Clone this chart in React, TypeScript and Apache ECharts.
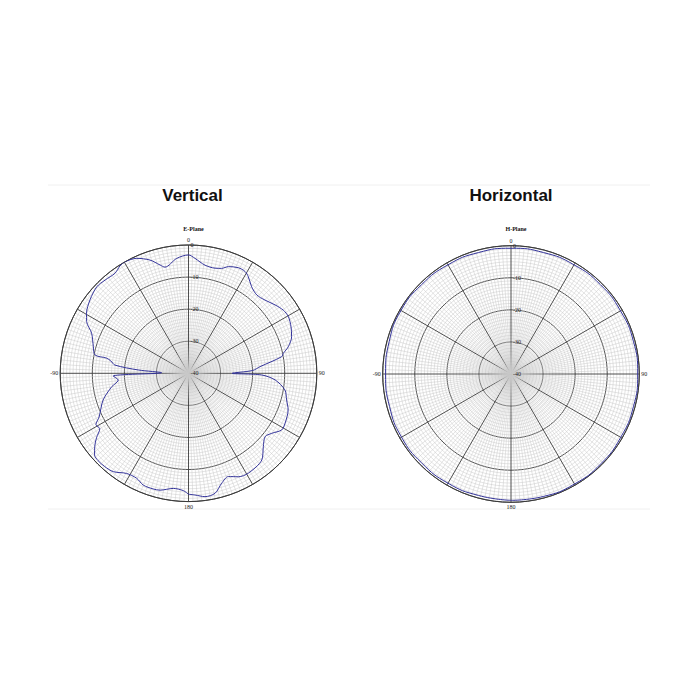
import * as echarts from "echarts"
import { useEffect, useRef } from "react"

// angles in degrees, 0 at top, clockwise; gains in dB (0 = outer ring, -40 = centre)
const ePlaneAngles = [
  -180, -177.4, -172.5, -166.3, -163, -158, -153.7, -148.3, -142.6, -138, -134, -131,
  -128, -125, -122, -119, -116, -107.4, -99.9, -98.3, -95.5, -92.1, -88.7, -86.2,
  -83.6, -81, -79.5, -78.9, -74.4, -67.5, -63.1, -59.5, -53.3, -46.7, -41.8, -36.3,
  -32.6, -29.6, -24.2, -18.8, -14.7, -12.5, -5.9, 0, 3.2, 8.7, 14.2, 17.5, 20.5,
  25.2, 29.1, 31.8, 36.1, 41.1, 46.2, 51.7, 56.3, 60.4, 65.6, 70.5, 75.1, 78.1,
  79.9, 84.7, 87.5, 90, 91.3, 94.4, 99.8, 105.2, 110.2, 117.4, 121.3, 125.8, 129.6,
  134.5, 139.8, 149.1, 154.3, 158.9, 163.2, 167.5, 172.4, 176.9,
]
const ePlaneGain = [
  -2.3, -3.4, -3.8, -2.5, -2.3, -2.4, -3.5, -3.3, -1.4, -0.9, -0.8, -1.2,
  -2.9, -5.0, -7.4, -7.0, -9.0, -12.1, -15.7, -16.8, -18.0, -16.5, -31.6, -24.3,
  -16.9, -15.5, -14.0, -10.3, -9.2, -7.3, -4.4, -3.1, -1.7, -0.7, -1.0, -1.3,
  -0.3, 0, -0.7, -2.7, -5.1, -6.1, -4.0, -3.1, -4.1, -5.9, -6.2, -5.7, -4.5,
  -3.6, -3.7, -4.6, -6.6, -7.6, -7.0, -5.6, -4.5, -4.2, -4.9, -5.9, -7.8, -9.8,
  -10.5, -17.6, -20.0, -26.4, -17.2, -12.9, -9.5, -8.3, -6.9, -6.1, -6.0, -8.0, -9.0,
  -7.3, -4.6, -3.7, -4.2, -5.5, -4.2, -1.7, -1.2, -2.0,
]

const hPlaneAngles = [
  -180, -165, -150, -135, -120, -105, -90, -75, -60, -45, -30, -15,
  0, 15, 30, 45, 60, 75, 90, 105, 120, 135, 150, 165,
]
const hPlaneGain = [
  -0.6, -0.8, -0.7, -0.7, -0.6, -0.8, -0.9, -0.7, -0.4, -0.6, -0.7, -0.8,
  -0.8, -0.8, -0.7, -0.6, -0.6, -0.5, -0.5, -0.5, -0.5, -0.4, -0.4, -0.5,
]

const angleLabels: Record<number, string> = { 0: "0", 90: "90", 180: "180", 270: "-90" }
const radiusLabels = ["-40", "-30", "-20", "-10", "0"]

const titles = ["Vertical", "Horizontal"]
const subtitles = ["E-Plane", "H-Plane"]
const centers: [number, number][] = [
  [188.5, 373.3],
  [511, 374],
]
const radius = 128.3

const dark = "#3a3a3a"
const minor = "#c8c8c8"
const trace = "#33339a"

function toPoints(angles: number[], gain: number[]): [number, number][] {
  const pts: [number, number][] = angles.map((a, i) => [gain[i], (a + 360) % 360])
  pts.push(pts[0])
  return pts
}

export default function App(): React.ReactElement {
  const ref = useRef<HTMLDivElement>(null)

  useEffect(() => {
    const node = ref.current
    if (!node) return
    const chart = echarts.init(node, undefined, { renderer: "svg", width: 698, height: 698 })

    const polar = centers.map((c) => ({ center: c, radius }))

    const angleAxis = centers.map((_, i) => ({
      polarIndex: i,
      type: "value",
      min: 0,
      max: 360,
      interval: 30,
      startAngle: 90,
      clockwise: true,
      axisLine: { show: true, lineStyle: { color: dark, width: 1 } },
      axisTick: { show: false },
      axisLabel: {
        margin: 2,
        fontSize: 6,
        fontFamily: "Liberation Serif",
        color: "#222",
        formatter: (v: number) => angleLabels[v] ?? "",
      },
      splitLine: { show: true, lineStyle: { color: dark, width: 0.9 } },
      minorTick: { show: false, splitNumber: 15 },
      minorSplitLine: { show: true, lineStyle: { color: minor, width: 0.5 } },
    }))

    const radiusAxis = centers.map((_, i) => ({
      polarIndex: i,
      type: "value",
      min: -40,
      max: 0,
      interval: 10,
      axisLine: { show: false },
      axisTick: { show: false },
      axisLabel: {
        fontSize: 6,
        fontFamily: "Liberation Serif",
        color: "#222",
        align: "left",
        margin: -2,
        formatter: (v: number) => radiusLabels[(v + 40) / 10] ?? "",
      },
      splitLine: { show: true, lineStyle: { color: dark, width: 0.9 } },
      minorTick: { show: false, splitNumber: 10 },
      minorSplitLine: { show: true, lineStyle: { color: minor, width: 0.5 } },
    }))

    chart.setOption({
      animation: false,
      backgroundColor: "#ffffff",
      title: [
        ...titles.map((t, i) => ({
          text: t,
          left: centers[i][0] - (i === 0 ? 1 : 5),
          top: 182,
          textAlign: "center",
          textStyle: {
            fontFamily: "Liberation Sans",
            fontWeight: "bold",
            fontSize: 17,
            color: "#111",
          },
        })),
        ...subtitles.map((t, i) => ({
          text: t,
          left: centers[i][0],
          top: 221,
          textAlign: "center",
          textStyle: {
            fontFamily: "Liberation Serif",
            fontWeight: "bold",
            fontSize: 6,
            color: "#111",
          },
        })),
      ],
      graphic: [185, 509].map((y) => ({
        type: "line",
        shape: { x1: 48, y1: y, x2: 650, y2: y },
        style: { stroke: "#f0f0f0", lineWidth: 1 },
        silent: true,
      })),
      polar,
      angleAxis,
      radiusAxis,
      series: [
        {
          type: "line",
          coordinateSystem: "polar",
          polarIndex: 0,
          data: toPoints(ePlaneAngles, ePlaneGain),
          showSymbol: false,
          smooth: 0.3,
          lineStyle: { color: trace, width: 1 },
        },
        {
          type: "line",
          coordinateSystem: "polar",
          polarIndex: 1,
          data: toPoints(hPlaneAngles, hPlaneGain),
          showSymbol: false,
          smooth: 0.5,
          lineStyle: { color: trace, width: 1 },
        },
      ],
    })

    return () => {
      chart.dispose()
    }
  }, [])

  return (
    <div
      ref={ref}
      style={{ position: "absolute", left: 0, top: 0, width: 698, height: 698, background: "#fff" }}
    />
  )
}
